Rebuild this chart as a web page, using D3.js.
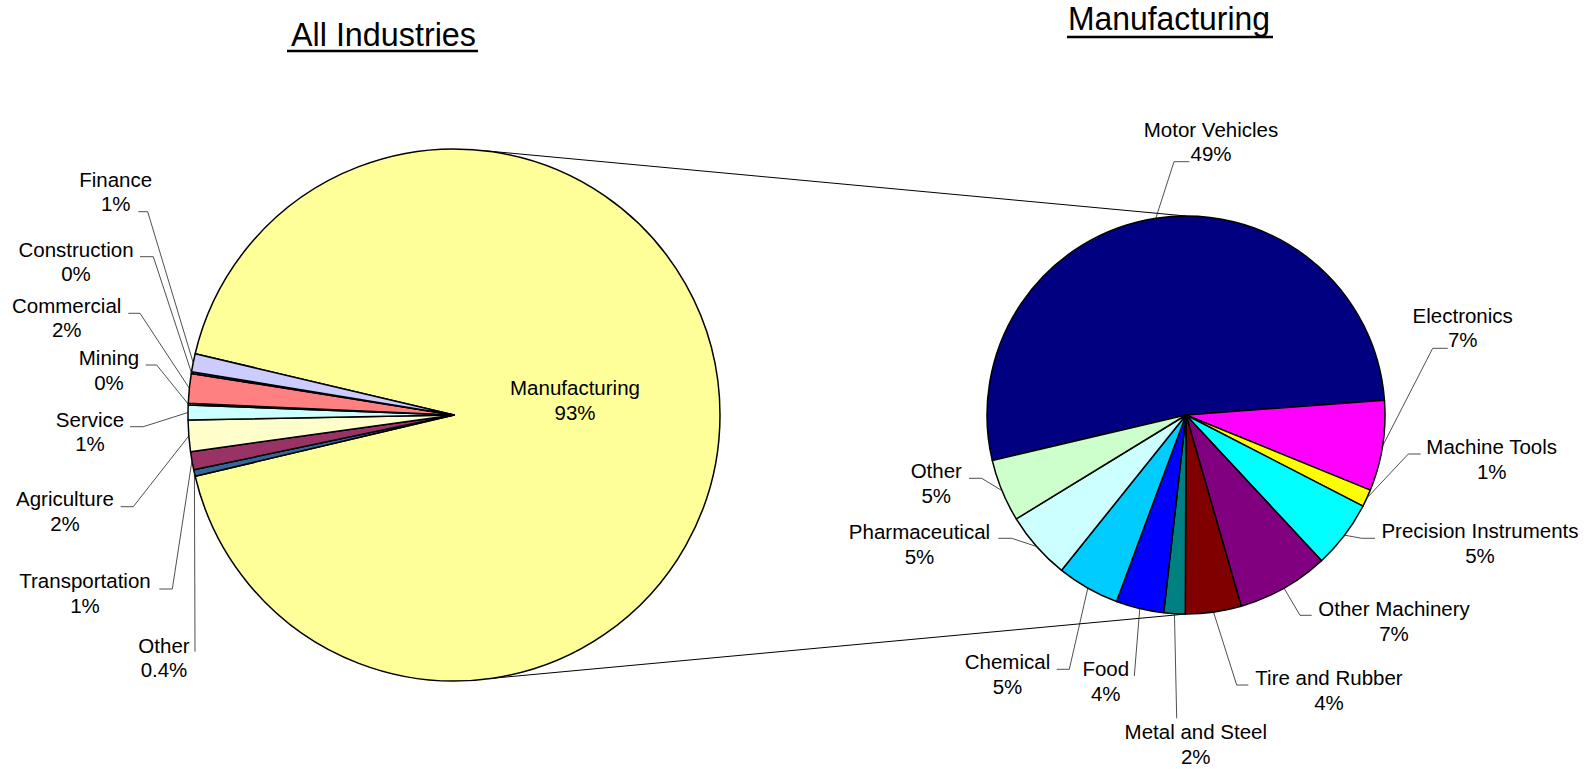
<!DOCTYPE html>
<html>
<head>
<meta charset="utf-8">
<script src="https://cdn.jsdelivr.net/npm/d3@7"></script>
<style>
  html, body { margin: 0; padding: 0; background: #fff; }
  svg { display: block; }
  text { font-family: "Liberation Sans", Arial, sans-serif; fill: #000; }
</style>
</head>
<body>
<svg id="chart" width="1591" height="769"></svg>
<script>
// ---------------- DATA ----------------
const allCategories = ["Manufacturing", "Other", "Transportation", "Agriculture", "Service",
                       "Mining", "Commercial", "Construction", "Finance"];
const allValues     = [92.6, 0.4, 1.1, 1.9, 0.9, 0.1, 1.8, 0.1, 1.1];
const allLabels     = ["93%", "0.4%", "1%", "2%", "1%", "0%", "2%", "0%", "1%"];

const mfgCategories = ["Motor Vehicles", "Electronics", "Machine Tools", "Precision Instruments",
                       "Other Machinery", "Tire and Rubber", "Metal and Steel", "Food",
                       "Chemical", "Pharmaceutical", "Other"];
const mfgValues     = [48.6, 6.8, 1.3, 5.1, 6.9, 4.2, 1.6, 3.6, 4.7, 5.1, 4.7];
const mfgLabels     = ["49%", "7%", "1%", "5%", "7%", "4%", "2%", "4%", "5%", "5%", "5%"];

const titles = ["All Industries", "Manufacturing"];

// ---------------- STYLE / LAYOUT ----------------
const svg = d3.select("#chart");
const deg = Math.PI / 180;

const allColor = d3.scaleOrdinal().domain(allCategories)
  .range(["#FFFF99", "#336699", "#993366", "#FFFFCC", "#CCFFFF", "#FFCC99", "#FF8080", "#9999FF", "#CCCCFF"]);
const mfgColor = d3.scaleOrdinal().domain(d3.range(mfgCategories.length))
  .range(["#000080", "#FF00FF", "#FFFF00", "#00FFFF", "#800080", "#800000", "#008080",
          "#0000FF", "#00CCFF", "#CCFFFF", "#CCFFCC"]);

const L = { cx: 454, cy: 415, r: 266 };
const R = { cx: 1186, cy: 415, r: 199 };

// label layout: [centerX, firstBaseline, elbowX, elbowY, endX]
const allLabelLayout = [
  [575, 395, null, null, null],          // Manufacturing (inside)
  [164, 652.7, 195, 651.7, 195],         // Other
  [85, 588.3, 172.3, 589, 159.3],        // Transportation
  [65, 506, 133.3, 506.7, 120.7],        // Agriculture
  [90, 426.7, 143.3, 426.7, 130],        // Service
  [109, 365, 156.7, 365, 145.7],         // Mining
  [66.7, 312.7, 140, 313.3, 128.3],      // Commercial
  [76, 256.7, 153.3, 256.7, 140],        // Construction
  [115.7, 186.7, 147.7, 211.7, 138.3]    // Finance
];
const mfgLabelLayout = [
  [1211, 136.7, 1174, 161.7, 1189.3],    // Motor Vehicles
  [1462.7, 322.7, 1432.7, 348.3, 1447.7],// Electronics
  [1491.7, 454, 1408.3, 454, 1420.7],    // Machine Tools
  [1480, 538.3, 1361.7, 538.3, 1375],    // Precision Instruments
  [1394, 616, 1300, 615.3, 1311.7],      // Other Machinery
  [1329, 685, 1236.7, 685, 1248.3],      // Tire and Rubber
  [1195.8, 739.3, 1176.7, 718.3, 1176.7],// Metal and Steel
  [1105.8, 676, 1134.3, 676, 1134.3],    // Food
  [1007.5, 669.3, 1069.3, 669.3, 1056.7],// Chemical
  [919.5, 539, 1011.7, 538.3, 998.3],    // Pharmaceutical
  [936.3, 478.3, 981.7, 478.3, 969]      // Other
];

const FONT = 20.5, LINE = 24.5;

// ---------------- PIES ----------------
const allTotal = d3.sum(allValues);
const allStart = Math.PI / 2 - (allValues[0] / allTotal) * Math.PI;   // Manufacturing faces the second pie
const pieAll = d3.pie().sort(null).value(d => d).startAngle(allStart).endAngle(allStart + 2 * Math.PI);
const pieMfg = d3.pie().sort(null).value(d => d).startAngle(-103.2 * deg).endAngle(-103.2 * deg + 2 * Math.PI);

const arcsAll = pieAll(allValues);
const arcsMfg = pieMfg(mfgValues);

function pt(P, a, rr) { rr = rr == null ? P.r : rr; return [P.cx + rr * Math.sin(a), P.cy - rr * Math.cos(a)]; }

// connector lines (drawn first, behind pies)
const conn = svg.append("g").attr("stroke", "#000").attr("stroke-width", 1).attr("fill", "none");
[[6 * deg, 0], [172 * deg, Math.PI]].forEach(([a1, a2]) => {
  const p1 = pt(L, a1), p2 = pt(R, a2);
  conn.append("line").attr("x1", p1[0]).attr("y1", p1[1]).attr("x2", p2[0]).attr("y2", p2[1]);
});

function drawPie(P, arcs, colorFn) {
  const arc = d3.arc().innerRadius(0).outerRadius(P.r);
  svg.append("g").attr("transform", `translate(${P.cx},${P.cy})`)
    .selectAll("path").data(arcs).join("path")
    .attr("d", arc)
    .attr("fill", (d, i) => colorFn(i))
    .attr("stroke", "#000").attr("stroke-width", 1.5).attr("stroke-linejoin", "round");
}
drawPie(L, arcsAll, i => allColor(allCategories[i]));
drawPie(R, arcsMfg, i => mfgColor(i));

// ---------------- LABELS ----------------
function drawLabels(P, arcs, cats, labs, layout) {
  const g = svg.append("g");
  arcs.forEach((d, i) => {
    const [x, y, ex, ey, endX] = layout[i];
    if (ex != null) {
      const mid = (d.startAngle + d.endAngle) / 2;
      const e = pt(P, mid);
      g.append("path")
        .attr("d", d3.line()([e, [ex, ey], [endX, ey]]))
        .attr("fill", "none").attr("stroke", "#222").attr("stroke-width", 0.8);
    }
    const t = g.append("text").attr("text-anchor", "middle").attr("font-size", FONT);
    t.append("tspan").attr("x", x).attr("y", y).text(cats[i]);
    t.append("tspan").attr("x", x).attr("y", y + LINE).text(labs[i]);
  });
}
drawLabels(L, arcsAll, allCategories, allLabels, allLabelLayout);
drawLabels(R, arcsMfg, mfgCategories, mfgLabels, mfgLabelLayout);

// ---------------- TITLES ----------------
const titleLayout = [
  { x: 291, y: 45.5, w: 185, ux1: 287, ux2: 478, uy: 51 },
  { x: 1068, y: 29.5, w: 202, ux1: 1067, ux2: 1273, uy: 37 }
];
titles.forEach((t, i) => {
  const tl = titleLayout[i];
  svg.append("text").attr("x", tl.x).attr("y", tl.y)
    .attr("font-size", 34).attr("textLength", tl.w).attr("lengthAdjust", "spacingAndGlyphs")
    .text(t);
  svg.append("line").attr("x1", tl.ux1).attr("x2", tl.ux2).attr("y1", tl.uy).attr("y2", tl.uy)
    .attr("stroke", "#000").attr("stroke-width", 2.5);
});
</script>
</body>
</html>
